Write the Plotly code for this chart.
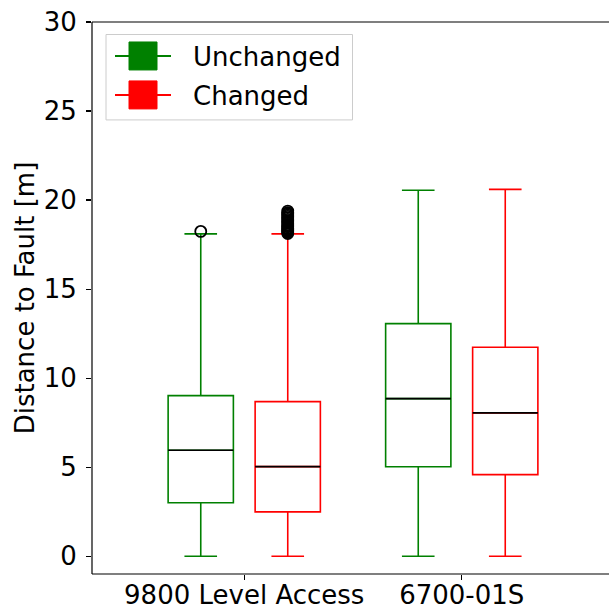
import plotly.graph_objects as go

# ---- data ----
categories = ["9800 Level Access", "6700-01S"]
series_names = ["Unchanged", "Changed"]

unchanged_lo = [0.0, 0.0]
unchanged_q1 = [3.0, 5.02]
unchanged_med = [5.95, 8.85]
unchanged_q3 = [9.02, 13.06]
unchanged_hi = [18.1, 20.55]
unchanged_out = [[18.24], []]

changed_lo = [0.0, 0.0]
changed_q1 = [2.49, 4.58]
changed_med = [5.03, 8.05]
changed_q3 = [8.68, 11.73]
changed_hi = [18.1, 20.6]
changed_out = [[18.12, 18.18, 18.25, 18.3, 18.36, 18.42, 18.5, 18.56, 18.62, 18.7,
                18.78, 18.85, 18.92, 19.0, 19.08, 19.15, 19.22, 19.3, 19.38], []]

yticks = [0, 5, 10, 15, 20, 25, 30]

# ---- layout constants ----
# The original axes extend slightly past the right edge of the 609 px image
# (right spine at ~614 px), so the figure is 614 px wide and the page clips it.
W, H = 614, 610
ML, MR, MT, MB = 92, 0, 22, 35.5
FONT = "DejaVu Sans"
FS = 26
BOX_W = 0.3
OFFSET = 0.2
colors = ["green", "red"]

fig = go.Figure()

groups = [
    (unchanged_lo, unchanged_q1, unchanged_med, unchanged_q3, unchanged_hi, unchanged_out),
    (changed_lo, changed_q1, changed_med, changed_q3, changed_hi, changed_out),
]
base = list(range(1, len(categories) + 1))

for si, (lo, q1, med, q3, hi, out) in enumerate(groups):
    sign = -1 if si == 0 else 1
    xs = [b + sign * OFFSET for b in base]
    fig.add_trace(go.Box(
        x=xs, q1=q1, median=med, q3=q3, lowerfence=lo, upperfence=hi,
        name=series_names[si], width=BOX_W, whiskerwidth=0.5,
        line=dict(color=colors[si], width=1.6),
        fillcolor="rgba(0,0,0,0)", boxpoints=False, showlegend=False,
        hoverinfo="skip",
    ))
    for x, m in zip(xs, med):
        fig.add_trace(go.Scatter(
            x=[x - BOX_W / 2, x + BOX_W / 2], y=[m, m], mode="lines",
            line=dict(color="black", width=1.6), showlegend=False, hoverinfo="skip",
        ))
    for x, pts in zip(xs, out):
        if pts:
            fig.add_trace(go.Scatter(
                x=[x] * len(pts), y=pts, mode="markers",
                marker=dict(symbol="circle-open", size=11, color="black",
                            line=dict(width=1.8, color="black")),
                showlegend=False, hoverinfo="skip",
            ))

PW = W - ML - MR
PH = H - MT - MB


def px_x(p):
    return (p - ML) / PW


def px_y(p):
    return (H - MB - p) / PH


SP = dict(color="black", width=1.2)
shapes = [
    dict(type="line", xref="paper", yref="paper", x0=0, x1=0, y0=0, y1=1, line=SP, layer="above"),
    dict(type="line", xref="paper", yref="paper", x0=0, x1=1, y0=1, y1=1, line=SP, layer="above"),
    dict(type="line", xref="paper", yref="paper", x0=0, x1=1, y0=0, y1=0, line=SP, layer="above"),
    dict(type="rect", xref="paper", yref="paper",
         x0=px_x(106), x1=px_x(352.5), y0=px_y(120), y1=px_y(34.5),
         line=dict(color="#cccccc", width=1), fillcolor="white", layer="above"),
]
annotations = []
row_y = [56, 95]
for i, name in enumerate(series_names):
    cy = row_y[i]
    shapes.append(dict(type="line", xref="paper", yref="paper",
                       x0=px_x(115), x1=px_x(171), y0=px_y(cy), y1=px_y(cy),
                       line=dict(color=colors[i], width=2), layer="above"))
    shapes.append(dict(type="rect", xref="paper", yref="paper",
                       x0=px_x(129), x1=px_x(157), y0=px_y(cy + 14), y1=px_y(cy - 14),
                       line=dict(color=colors[i], width=1), fillcolor=colors[i], layer="above"))
    annotations.append(dict(xref="paper", yref="paper", x=px_x(191), y=px_y(cy + 1),
                            text=name, showarrow=False, xanchor="left", yanchor="middle",
                            font=dict(family=FONT, size=FS, color="black")))

fig.update_layout(
    width=W, height=H,
    margin=dict(l=ML, r=MR, t=MT, b=MB, pad=0, autoexpand=False),
    paper_bgcolor="white", plot_bgcolor="white",
    font=dict(family=FONT, size=FS, color="black"),
    showlegend=False, dragmode=False,
    shapes=shapes, annotations=annotations,
    xaxis=dict(
        range=[0.3, 0.3 + PW / 217.5], tickmode="array", tickvals=base, ticktext=categories,
        showgrid=False, zeroline=False, showline=False, mirror=False,
        ticks="outside", ticklen=5, tickwidth=1.2,
        tickcolor="black", tickfont=dict(family=FONT, size=FS), fixedrange=True,
        automargin=False, ticklabelstandoff=-7,
    ),
    yaxis=dict(
        range=[-1.0, 30.0], tickmode="array", tickvals=yticks,
        showgrid=False, zeroline=False, showline=False, mirror=False,
        ticks="outside", ticklen=5, tickwidth=1.2,
        tickcolor="black", tickfont=dict(family=FONT, size=FS), ticklabelstandoff=4,
        title=dict(text="Distance to Fault [m]", font=dict(family=FONT, size=FS), standoff=1),
        fixedrange=True, automargin=False,
    ),
)

fig.write_html(
    "out.html",
    config={"displayModeBar": False, "staticPlot": True},
    post_script=("document.documentElement.style.overflow='hidden';"
                 "document.body.style.overflow='hidden';"
                 "document.body.style.margin='0';"),
)
